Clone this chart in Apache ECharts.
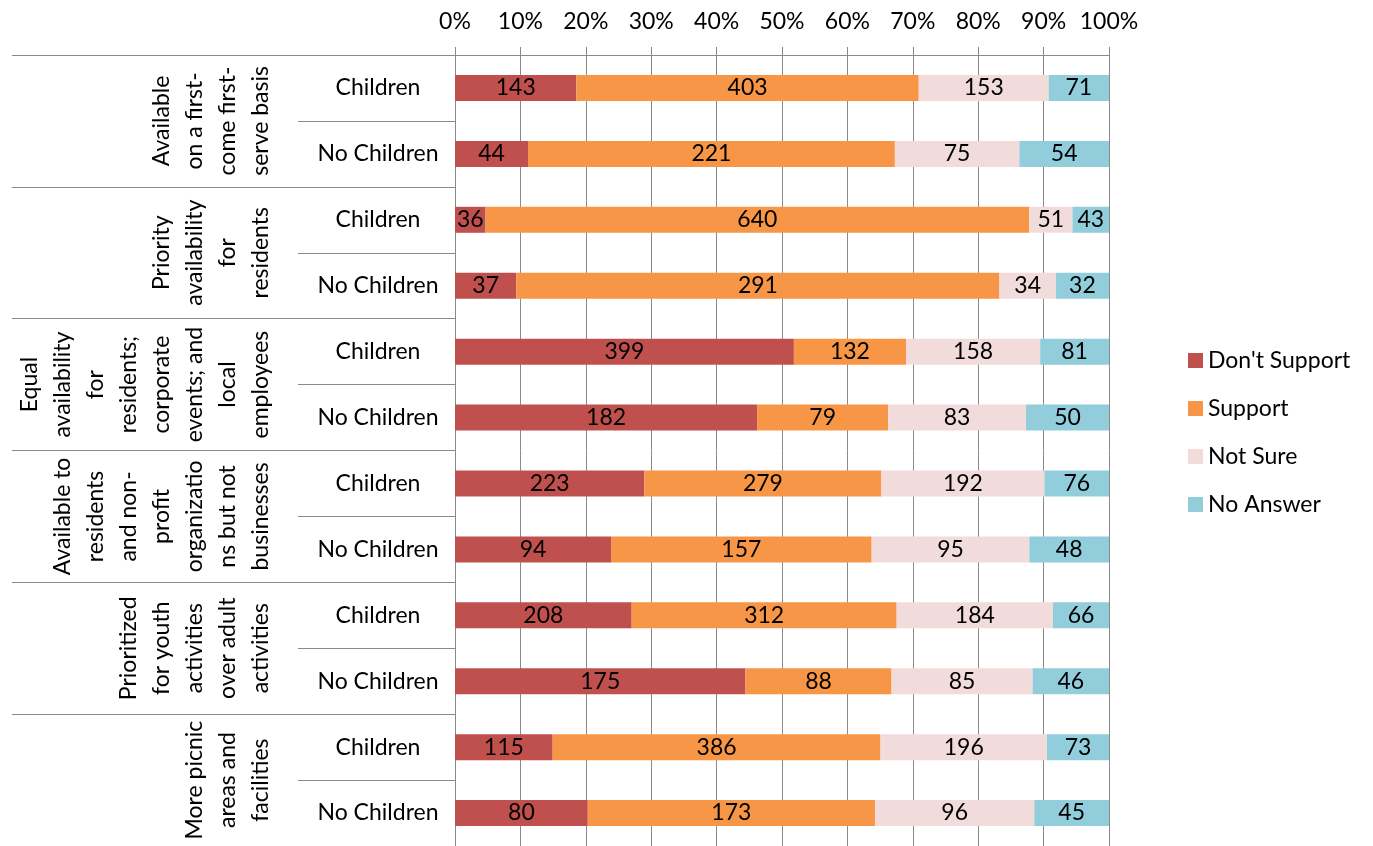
<!DOCTYPE html>
<html>
<head>
<meta charset="utf-8">
<script src="https://cdn.jsdelivr.net/npm/echarts@6/dist/echarts.min.js"></script>
<style>
html,body{margin:0;padding:0;background:#fff;}
#chart{width:1373px;height:846px;}
</style>
</head>
<body>
<div id="chart"></div>
<script>
// ---- data ----
const groupLabels = [
  "Available\non a first-\ncome first-\nserve basis",
  "Priority\navailability\nfor\nresidents",
  "Equal\navailability\nfor\nresidents;\ncorporate\nevents; and\nlocal\nemployees",
  "Available to\nresidents\nand non-\nprofit\norganizatio\nns but not\nbusinesses",
  "Prioritized\nfor youth\nactivities\nover adult\nactivities",
  "More picnic\nareas and\nfacilities"
];
const rowLabels = ["Children","No Children","Children","No Children","Children","No Children",
                   "Children","No Children","Children","No Children","Children","No Children"];
const seriesNames = ["Don't Support","Support","Not Sure","No Answer"];
const dontSupport = [143, 44, 36, 37, 399, 182, 223, 94, 208, 175, 115, 80];
const support     = [403, 221, 640, 291, 132, 79, 279, 157, 312, 88, 386, 173];
const notSure     = [153, 75, 51, 34, 158, 83, 192, 95, 184, 85, 196, 96];
const noAnswer    = [71, 54, 43, 32, 81, 50, 76, 48, 66, 46, 73, 45];
const xTicks = [0,10,20,30,40,50,60,70,80,90,100];

// ---- build ----
const colors = ['#C0504D','#F79646','#F2DCDB','#92CDDC'];
const all = [dontSupport, support, notSure, noAnswer];
const totals = rowLabels.map((_, i) => all.reduce((s, a) => s + a[i], 0));
const rowKeys = rowLabels.map((_, i) => 'r' + i);
const groupKeys = groupLabels.map((_, i) => 'g' + i);
const FONT = 'Lato';
const FS = 23;
const gray = '#8a8a8a';

const series = all.map((arr, k) => ({
  name: seriesNames[k],
  type: 'bar',
  stack: 'total',
  barWidth: 26,
  yAxisIndex: 0,
  itemStyle: { color: colors[k] },
  label: {
    show: true, position: 'inside', color: '#000',
    fontFamily: FONT, fontSize: FS,
    formatter: p => p.data.raw
  },
  emphasis: { disabled: true },
  data: arr.map((v, i) => ({ value: v / totals[i] * 100, raw: v }))
}));

const chart = echarts.init(document.getElementById('chart'), null, { renderer: 'canvas' });
chart.setOption({
  animation: false,
  textStyle: { fontFamily: FONT },
  grid: { left: 455, top: 55, width: 654, height: 792, containLabel: false },
  legend: {
    orient: 'vertical', left: 1183, top: 344,
    itemWidth: 15, itemHeight: 15, itemGap: 25,
    icon: 'rect',
    textStyle: { fontFamily: FONT, fontSize: FS, color: '#000' },
    data: seriesNames
  },
  xAxis: {
    type: 'value', position: 'top', min: 0, max: 100, interval: 10,
    axisLine: { show: true, lineStyle: { color: gray, width: 1 } },
    axisTick: { show: true, length: 8, lineStyle: { color: gray } },
    splitLine: { show: true, lineStyle: { color: gray, width: 1 } },
    axisLabel: { formatter: v => xTicks.includes(v) ? v + '%' : '', fontFamily: FONT, fontSize: FS, color: '#000', margin: 22 }
  },
  yAxis: [
    {
      type: 'category', inverse: true, data: rowKeys, position: 'left',
      axisLine: { show: true, lineStyle: { color: gray, width: 1 } },
      axisTick: { show: true, length: 157, interval: 0, lineStyle: { color: gray } },
      axisLabel: {
        interval: 0, formatter: (v, i) => rowLabels[i],
        fontFamily: FONT, fontSize: FS, color: '#000', align: 'center', margin: 77
      },
      splitLine: { show: false }
    },
    {
      type: 'category', inverse: true, data: groupKeys, position: 'left', offset: 0,
      axisLine: { show: false },
      axisTick: { show: true, length: 443, interval: 0, lineStyle: { color: gray } },
      axisLabel: {
        interval: 0, rotate: 90, formatter: (v, i) => groupLabels[i],
        fontFamily: FONT, fontSize: FS, lineHeight: 33, color: '#000',
        align: 'center', verticalAlign: 'bottom', margin: 178
      },
      splitLine: { show: false }
    }
  ],
  series: series
});
</script>
</body>
</html>
